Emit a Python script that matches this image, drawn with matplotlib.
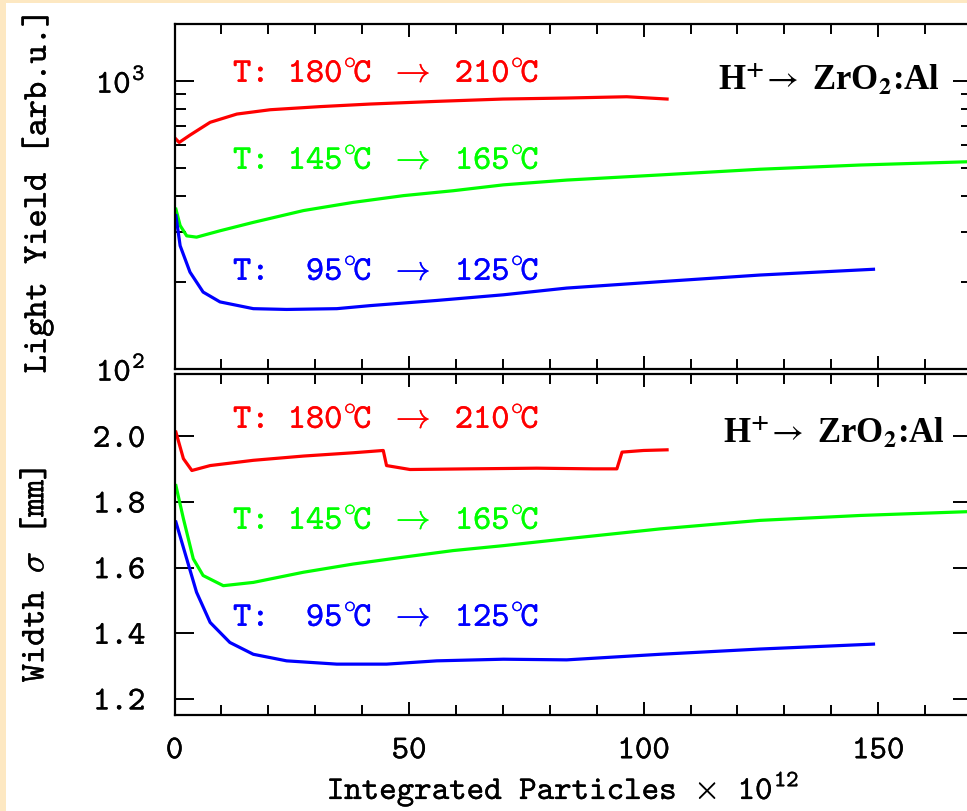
import matplotlib
matplotlib.use('Agg')
import matplotlib.pyplot as plt
import matplotlib.patheffects as pe
from matplotlib.ticker import MultipleLocator, LogLocator, NullFormatter, FixedLocator, FormatStrFormatter
from matplotlib.patches import Rectangle

plt.rcParams['mathtext.fontset'] = 'cm'
plt.rcParams['font.family'] = ['cmtt10', 'DejaVu Serif']

# light yield vs integrated particles (x 1e12)
ly_red_x = [0.3, 1.0, 3.3, 7.6, 13.3, 20.4, 31.0, 41.7, 55.9, 70.0, 83.6, 96.4, 105.0]
ly_red_y = [629, 612, 649, 719, 768, 795, 815, 832, 850, 866, 873, 882, 866]
ly_green_x = [0.3, 1.2, 2.6, 4.7, 9.7, 16.8, 27.5, 38.1, 48.8, 59.4, 70.1, 83.6, 103.5, 124.8, 146.2, 170]
ly_green_y = [359, 315, 290, 287, 302, 323, 355, 379, 400, 416, 436, 453, 472, 494, 511, 525]
ly_blue_x = [0.3, 1.2, 3.3, 6.1, 9.7, 16.8, 23.9, 34.6, 41.7, 55.9, 70.1, 83.6, 103.5, 124.8, 149]
ly_blue_y = [341, 268, 217, 185, 171, 162, 161, 162, 166, 173, 181, 191, 201, 212, 222]

# beam spot width sigma [mm]
w_red_x = [0.3, 1.9, 3.7, 7.6, 16.8, 27.5, 38.1, 44.5, 45.2, 50.2, 63.0, 77.2, 89.3, 94.3, 95.4, 100.0, 105.0]
w_red_y = [2.013, 1.932, 1.896, 1.911, 1.927, 1.940, 1.950, 1.957, 1.911, 1.899, 1.901, 1.903, 1.901,
           1.901, 1.952, 1.957, 1.959]
w_green_x = [0.3, 1.9, 4.0, 6.1, 10.4, 16.8, 27.5, 38.1, 48.8, 59.4, 70.1, 83.6, 103.5, 124.8, 146.2, 170]
w_green_y = [1.850, 1.749, 1.627, 1.576, 1.545, 1.555, 1.586, 1.611, 1.632, 1.652, 1.667, 1.688,
             1.718, 1.744, 1.759, 1.771]
w_blue_x = [0.3, 2.6, 4.7, 7.6, 11.8, 16.8, 23.9, 34.6, 45.2, 55.9, 70.1, 83.6, 103.5, 124.8, 149]
w_blue_y = [1.739, 1.627, 1.525, 1.433, 1.372, 1.336, 1.316, 1.306, 1.306, 1.316, 1.321, 1.319,
            1.336, 1.352, 1.367]

labels = [r'T: 180$^{\circ}\!$C $\to$ 210$^{\circ}\!$C',
          r'T: 145$^{\circ}\!$C $\to$ 165$^{\circ}\!$C',
          r'T:  95$^{\circ}\!$C $\to$ 125$^{\circ}\!$C']
colors = ['#ff0000', '#00ff00', '#0000ff']
target = r'H$^{\mathbf{+}}$$\!\rightarrow$ ZrO$_{\mathbf{2}}$:Al'

W, H = 967, 812
fig = plt.figure(figsize=(W / 100, H / 100), dpi=100, facecolor='#fde8c2')
fig.add_artist(Rectangle((6 / W, 0), 1, 1 - 4 / H, transform=fig.transFigure,
                         facecolor='white', edgecolor='none', zorder=-10))


def fx(x):
    return x / W


def fy(y):
    return 1 - y / H


def heavy(color):
    return [pe.withStroke(linewidth=0.2, foreground=color)]


ax1 = fig.add_axes([fx(174.5), fy(370), (972 - 174.5) / W, (370 - 25) / H])
ax2 = fig.add_axes([fx(174.5), fy(716), (972 - 174.5) / W, (716 - 375) / H])

lw = 2.3
ax1.plot(ly_red_x, ly_red_y, color=colors[0], lw=lw)
ax1.plot(ly_green_x, ly_green_y, color=colors[1], lw=lw)
ax1.plot(ly_blue_x, ly_blue_y, color=colors[2], lw=lw)
ax2.plot(w_red_x, w_red_y, color=colors[0], lw=lw)
ax2.plot(w_green_x, w_green_y, color=colors[1], lw=lw)
ax2.plot(w_blue_x, w_blue_y, color=colors[2], lw=lw)

ax1.set_yscale('log')
ax1.set_ylim(100, 1578)
ax1.yaxis.set_major_locator(FixedLocator([100, 1000]))
ax1.yaxis.set_minor_locator(LogLocator(subs=range(2, 10)))
ax1.yaxis.set_minor_formatter(NullFormatter())
ax2.set_ylim(1.151, 2.19)
ax2.yaxis.set_major_locator(MultipleLocator(0.2))
ax2.yaxis.set_major_formatter(FormatStrFormatter('%.1f'))

for ax in (ax1, ax2):
    ax.set_xlim(0, 170)
    ax.xaxis.set_major_locator(MultipleLocator(50))
    ax.xaxis.set_minor_locator(MultipleLocator(10))
    ax.set_facecolor('none')
    for s in ax.spines.values():
        s.set_linewidth(1.6)
    ax.tick_params(which='both', direction='in', top=True, right=True, width=1.4,
                   labelsize=24, colors='black')
    ax.tick_params(axis='y', which='major', length=13.5, pad=21)
    ax.tick_params(axis='y', which='minor', length=8)
    ax.tick_params(axis='x', which='major', length=9.5, pad=16)
    ax.tick_params(axis='x', which='minor', length=7)
ax1.tick_params(labelbottom=False)

fig.canvas.draw()
for ax in (ax1, ax2):
    for t in ax.get_xticklabels() + ax.get_yticklabels():
        t.set_path_effects(heavy('black'))

# axis titles
fig.text(fx(38), fy(192), 'Light Yield [arb.u.]', rotation=90, ha='center', va='center',
         fontsize=25, path_effects=heavy('black'))
fig.text(fx(36), fy(576), r'Width $\sigma$ [mm]', rotation=90, ha='center', va='center',
         fontsize=25, path_effects=heavy('black'))
fig.text(fx(563), fy(790), r'Integrated Particles $\times$ $\mathdefault{10^{12}}$',
         ha='center', va='center', fontsize=24, path_effects=heavy('black'))

# temperature ranges
for lab, c, yb in zip(labels, colors, [83, 170, 281]):
    fig.text(fx(233), fy(yb), lab, color=c, fontsize=25, ha='left', va='baseline',
             path_effects=heavy(c))
for lab, c, yb in zip(labels, colors, [429, 530, 627]):
    fig.text(fx(233), fy(yb), lab, color=c, fontsize=25, ha='left', va='baseline',
             path_effects=heavy(c))

for xl, yb in [(718, 90), (723, 443)]:
    fig.text(fx(xl), fy(yb), target, fontsize=25, family='Liberation Serif', weight='bold',
             math_fontfamily='stix', ha='left', va='baseline')

fig.savefig('out.png', dpi=100)
